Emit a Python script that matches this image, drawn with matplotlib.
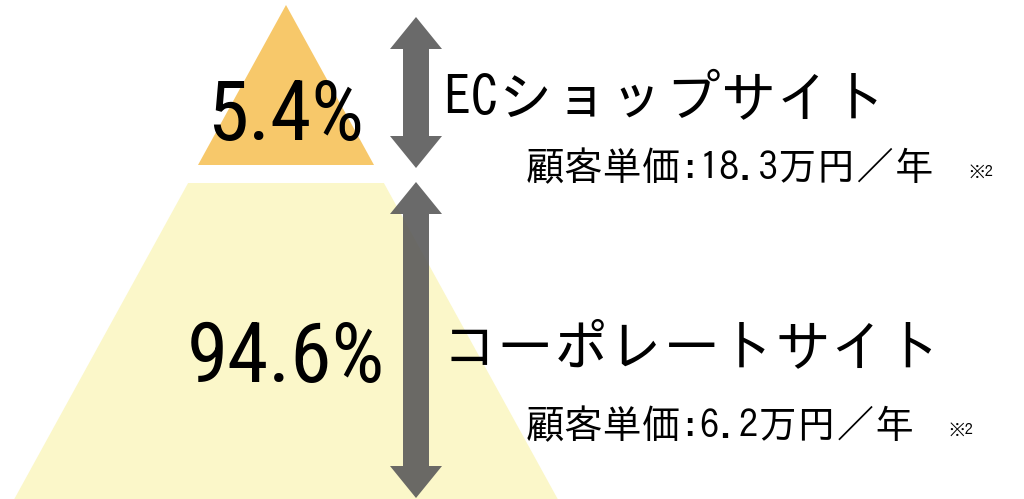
import matplotlib
matplotlib.use("Agg")
import matplotlib.pyplot as plt
from matplotlib.patches import Polygon

# ---- data ----
segments = ["ECショップサイト", "コーポレートサイト"]
shares = [5.4, 94.6]            # %
unit_prices = [18.3, 6.2]       # 万円/年
note = "※2"

W, H = 1024, 499
fig = plt.figure(figsize=(W / 100, H / 100), dpi=100)
ax = fig.add_axes([0, 0, 1, 1])
ax.set_xlim(0, W)
ax.set_ylim(H, 0)
ax.axis("off")

font = ["IPAGothic", "Noto Sans CJK JP", "DejaVu Sans"]
num_font = ["Roboto Condensed", "IPAGothic", "DejaVu Sans"]

# pyramid geometry (layout)
apex_x, apex_y = 286, 5
slope = 0.55
def half(y):
    return slope * (y - apex_y)

top_base = 165
ax.add_patch(Polygon([(apex_x, apex_y), (apex_x + half(top_base), top_base),
                      (apex_x - half(top_base), top_base)],
                     closed=True, facecolor="#F7C86A", edgecolor="none", zorder=1))
y0, y1 = 183, H + 2
ax.add_patch(Polygon([(apex_x - half(y0), y0), (apex_x + half(y0), y0),
                      (apex_x + half(y1), y1), (apex_x - half(y1), y1)],
                     closed=True, facecolor="#FBF7C9", edgecolor="none", zorder=1))

def double_arrow(xc, ytop, ybot, shaft=26, head=52, headlen=32, **kw):
    hs, hh = shaft / 2, head / 2
    pts = [(xc, ytop), (xc + hh, ytop + headlen), (xc + hs, ytop + headlen),
           (xc + hs, ybot - headlen), (xc + hh, ybot - headlen), (xc, ybot),
           (xc - hh, ybot - headlen), (xc - hs, ybot - headlen),
           (xc - hs, ytop + headlen), (xc - hh, ytop + headlen)]
    ax.add_patch(Polygon(pts, closed=True, edgecolor="none", zorder=3, **kw))

double_arrow(416, 17, 168, facecolor="#6a6a6a")
double_arrow(416, 182, 498, facecolor="#5a5a5a", alpha=0.9)

# percentages
pct_y = [140, 382]
for s, y in zip(shares, pct_y):
    ax.text(apex_x, y, f"{s}%", fontsize=60, family=num_font,
            ha="center", va="baseline", color="black", zorder=4)

# segment names
name_y = [117, 365]
for n, y in zip(segments, name_y):
    ax.text(443, y, n, fontsize=40, family=font, ha="left", va="baseline",
            color="black", zorder=4)

# unit prices
price_y = [180, 438]
for p, y in zip(unit_prices, price_y):
    ax.text(526, y, f"顧客単価:{p}万円／年", fontsize=28, family=font,
            ha="left", va="baseline", color="black", zorder=4)
note_x = [969, 949]
for x, y in zip(note_x, price_y):
    ax.text(x, y - 3, note, fontsize=12, family=font, ha="left",
            va="baseline", color="black", zorder=4)

fig.savefig("out.png", dpi=100)
